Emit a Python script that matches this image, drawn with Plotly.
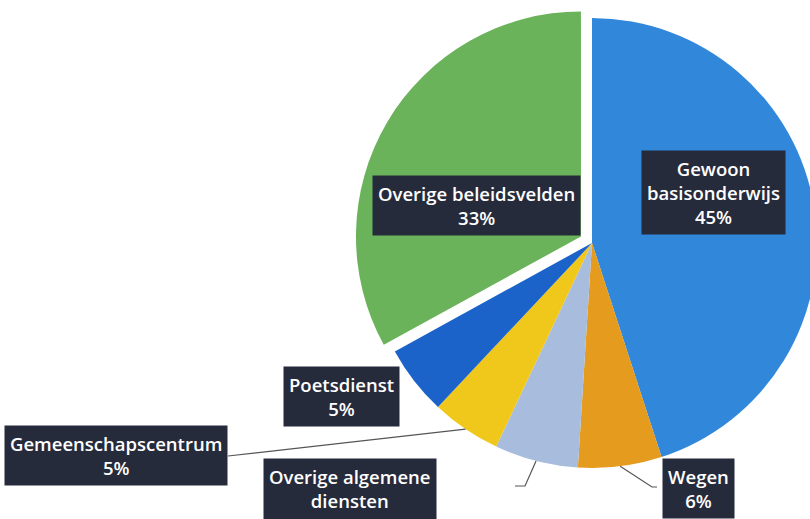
import math
import plotly.graph_objects as go

# ---- data ----
labels = ["Gewoon basisonderwijs", "Wegen", "Overige algemene diensten",
          "Gemeenschapscentrum", "Poetsdienst", "Overige beleidsvelden"]
label_lines = ["Gewoon<br>basisonderwijs", "Wegen", "Overige algemene<br>diensten",
               "Gemeenschapscentrum", "Poetsdienst", "Overige beleidsvelden"]
values = [45, 6, 6, 5, 5, 33]

# ---- style ----
colors = ["#3187DA", "#E49B1E", "#A8BCDD", "#F0C81C", "#1B62C9", "#6BB35A"]
pulls = [0, 0, 0, 0, 0, 0.057]

W, H = 832, 519
CX, CY, R = 592, 243, 225
half = R * (1 + max(pulls))
dom_x = [max(0, (CX - half) / W), min(1, (CX + half) / W)]
dom_y = [max(0, 1 - (CY + half) / H), min(1, 1 - (CY - half) / H)]

# label box centres (pixels) and leader-line label-side points
label_pos = [(713, 192), (698, 488), (350, 500), (116, 455), (341, 396), (476, 205)]
leader_pts = {1: [(657, 487), (652, 487)],
              2: [(515, 486), (525, 486)],
              3: [(228, 456)]}

fig = go.Figure(go.Pie(
    labels=labels, values=values, sort=False, direction="clockwise", rotation=0,
    marker=dict(colors=colors, line=dict(width=0)),
    pull=pulls, textinfo="none", hoverinfo="label+percent",
    domain=dict(x=dom_x, y=dom_y), showlegend=False,
))

def px2paper(x, y):
    return x / W, 1 - y / H

total = sum(values)
cum = 0
for i, v in enumerate(values):
    mid = (cum + v / 2) / total * 2 * math.pi
    cum += v
    pct = round(v / total * 100)
    lx, ly = px2paper(*label_pos[i])
    fig.add_annotation(
        x=lx, y=ly, xref="paper", yref="paper", xanchor="center", yanchor="middle",
        text=f"{label_lines[i]}<br>{pct}%", showarrow=False,
        font=dict(family="Open Sans", size=18.5, color="white", weight=600),
        bgcolor="#262B3C", borderpad=5, align="center",
    )
    if i in leader_pts:
        ex = CX + R * math.sin(mid)
        ey = CY - R * math.cos(mid)
        pts = leader_pts[i] + [(ex, ey)]
        path = "M " + " L ".join(f"{px2paper(x, y)[0]},{px2paper(x, y)[1]}" for x, y in pts)
        fig.add_shape(type="path", path=path, xref="paper", yref="paper",
                      line=dict(color="#555555", width=1.2))

fig.update_layout(
    width=W, height=H, margin=dict(l=0, r=0, t=0, b=0),
    paper_bgcolor="white", plot_bgcolor="white",
)

fig.write_html("out.html", config={"displayModeBar": False},
               post_script="document.body.style.margin='0';document.body.style.overflow='hidden';")
